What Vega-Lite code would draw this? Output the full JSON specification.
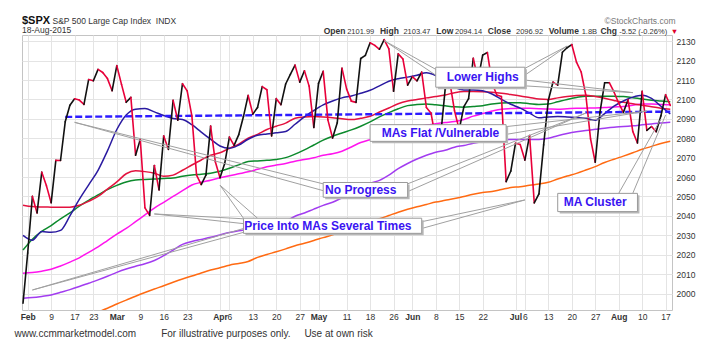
{
  "$schema": "https://vega.github.io/schema/vega-lite/v6.json",
  "width": 650,
  "height": 275,
  "autosize": {"type": "none"},
  "padding": {"left": 22, "top": 35, "right": 39, "bottom": 38},
  "config": {"font": "Liberation Sans", "view": {"stroke": "#c4c4c4", "strokeWidth": 1}},
  "title": {"text": "$SPX", "subtitle": "18-Aug-2015", "anchor": "start", "frame": "group", "fontSize": 11, "fontWeight": "bold", "color": "#111", "subtitleFontSize": 8.5, "subtitleColor": "#333", "offset": -18, "subtitlePadding": 0},
  "datasets": {
    "prices": [
      {"date":"2015-01-30","close":1994.99},{"date":"2015-02-02","close":2020.85},{"date":"2015-02-03","close":2050.03},{"date":"2015-02-04","close":2041.51},{"date":"2015-02-05","close":2062.52},{"date":"2015-02-06","close":2055.47},{"date":"2015-02-09","close":2046.74},{"date":"2015-02-10","close":2068.59},{"date":"2015-02-11","close":2068.53},{"date":"2015-02-12","close":2088.48},{"date":"2015-02-13","close":2096.99},{"date":"2015-02-17","close":2100.34},{"date":"2015-02-18","close":2099.68},{"date":"2015-02-19","close":2097.45},{"date":"2015-02-20","close":2110.30},{"date":"2015-02-23","close":2109.66},{"date":"2015-02-24","close":2115.48},{"date":"2015-02-25","close":2113.86},{"date":"2015-02-26","close":2110.74},{"date":"2015-02-27","close":2104.50},
      {"date":"2015-03-02","close":2117.39},{"date":"2015-03-03","close":2107.78},{"date":"2015-03-04","close":2098.53},{"date":"2015-03-05","close":2101.04},{"date":"2015-03-06","close":2071.26},{"date":"2015-03-09","close":2079.43},{"date":"2015-03-10","close":2044.16},{"date":"2015-03-11","close":2040.24},{"date":"2015-03-12","close":2065.95},{"date":"2015-03-13","close":2053.40},{"date":"2015-03-16","close":2081.19},{"date":"2015-03-17","close":2074.28},{"date":"2015-03-18","close":2099.50},{"date":"2015-03-19","close":2089.27},{"date":"2015-03-20","close":2108.10},{"date":"2015-03-23","close":2104.42},{"date":"2015-03-24","close":2091.50},{"date":"2015-03-25","close":2061.05},{"date":"2015-03-26","close":2056.15},{"date":"2015-03-27","close":2061.02},{"date":"2015-03-30","close":2086.24},{"date":"2015-03-31","close":2067.89},
      {"date":"2015-04-01","close":2059.69},{"date":"2015-04-02","close":2066.96},{"date":"2015-04-06","close":2080.62},{"date":"2015-04-07","close":2076.33},{"date":"2015-04-08","close":2081.90},{"date":"2015-04-09","close":2091.18},{"date":"2015-04-10","close":2102.06},{"date":"2015-04-13","close":2092.43},{"date":"2015-04-14","close":2095.84},{"date":"2015-04-15","close":2106.63},{"date":"2015-04-16","close":2104.99},{"date":"2015-04-17","close":2081.18},{"date":"2015-04-20","close":2100.40},{"date":"2015-04-21","close":2097.29},{"date":"2015-04-22","close":2107.96},{"date":"2015-04-23","close":2112.93},{"date":"2015-04-24","close":2117.69},{"date":"2015-04-27","close":2108.92},{"date":"2015-04-28","close":2114.76},{"date":"2015-04-29","close":2106.85},{"date":"2015-04-30","close":2085.51},
      {"date":"2015-05-01","close":2108.29},{"date":"2015-05-04","close":2114.49},{"date":"2015-05-05","close":2089.46},{"date":"2015-05-06","close":2080.15},{"date":"2015-05-07","close":2088.00},{"date":"2015-05-08","close":2116.10},{"date":"2015-05-11","close":2105.33},{"date":"2015-05-12","close":2099.12},{"date":"2015-05-13","close":2098.48},{"date":"2015-05-14","close":2121.10},{"date":"2015-05-15","close":2122.73},{"date":"2015-05-18","close":2129.20},{"date":"2015-05-19","close":2127.83},{"date":"2015-05-20","close":2125.85},{"date":"2015-05-21","close":2130.82},{"date":"2015-05-22","close":2126.06},{"date":"2015-05-26","close":2104.20},{"date":"2015-05-27","close":2123.48},{"date":"2015-05-28","close":2120.79},{"date":"2015-05-29","close":2107.39},
      {"date":"2015-06-01","close":2111.73},{"date":"2015-06-02","close":2109.60},{"date":"2015-06-03","close":2114.07},{"date":"2015-06-04","close":2095.84},{"date":"2015-06-05","close":2092.83},{"date":"2015-06-08","close":2079.28},{"date":"2015-06-09","close":2080.15},{"date":"2015-06-10","close":2105.20},{"date":"2015-06-11","close":2108.86},{"date":"2015-06-12","close":2094.11},{"date":"2015-06-15","close":2084.43},{"date":"2015-06-16","close":2096.29},{"date":"2015-06-17","close":2100.44},{"date":"2015-06-18","close":2121.24},{"date":"2015-06-19","close":2109.99},{"date":"2015-06-22","close":2122.85},{"date":"2015-06-23","close":2124.20},{"date":"2015-06-24","close":2108.58},{"date":"2015-06-25","close":2102.31},{"date":"2015-06-26","close":2101.49},{"date":"2015-06-29","close":2057.64},{"date":"2015-06-30","close":2063.11},
      {"date":"2015-07-01","close":2077.42},{"date":"2015-07-02","close":2076.78},{"date":"2015-07-06","close":2068.76},{"date":"2015-07-07","close":2081.34},{"date":"2015-07-08","close":2046.68},{"date":"2015-07-09","close":2051.31},{"date":"2015-07-10","close":2076.62},{"date":"2015-07-13","close":2099.60},{"date":"2015-07-14","close":2108.95},{"date":"2015-07-15","close":2107.40},{"date":"2015-07-16","close":2124.29},{"date":"2015-07-17","close":2126.64},{"date":"2015-07-20","close":2128.28},{"date":"2015-07-21","close":2119.21},{"date":"2015-07-22","close":2114.15},{"date":"2015-07-23","close":2102.15},{"date":"2015-07-24","close":2079.65},{"date":"2015-07-27","close":2067.64},{"date":"2015-07-28","close":2093.25},{"date":"2015-07-29","close":2108.57},{"date":"2015-07-30","close":2108.63},{"date":"2015-07-31","close":2103.84},
      {"date":"2015-08-03","close":2098.04},{"date":"2015-08-04","close":2093.32},{"date":"2015-08-05","close":2099.84},{"date":"2015-08-06","close":2083.56},{"date":"2015-08-07","close":2077.57},{"date":"2015-08-10","close":2104.18},{"date":"2015-08-11","close":2084.07},{"date":"2015-08-12","close":2086.05},{"date":"2015-08-13","close":2083.39},{"date":"2015-08-14","close":2091.54},{"date":"2015-08-17","close":2102.44},{"date":"2015-08-18","close":2096.92}
    ],
    "mas": [
      {"date":"2015-01-30","ma1":2030,"ma2":2045.5,"ma3":2022.4,"ma4":2010.4,"ma5":1997.5,"ma6":null},
      {"date":"2015-02-03","ma1":2027.5,"ma2":2044.8,"ma3":2028,"ma4":2010.8,"ma5":1997.9,"ma6":null},
      {"date":"2015-02-05","ma1":2032,"ma2":2044.6,"ma3":2032,"ma4":2011.5,"ma5":1998.5,"ma6":null},
      {"date":"2015-02-09","ma1":2031.5,"ma2":2044.5,"ma3":2035,"ma4":2012.5,"ma5":1999.2,"ma6":null},
      {"date":"2015-02-11","ma1":2032.5,"ma2":2044.4,"ma3":2038.5,"ma4":2014.2,"ma5":2000.6,"ma6":null},
      {"date":"2015-02-13","ma1":2040,"ma2":2044.5,"ma3":2041.5,"ma4":2016.2,"ma5":2002,"ma6":null},
      {"date":"2015-02-18","ma1":2048.5,"ma2":2045.5,"ma3":2045,"ma4":2018.4,"ma5":2003.6,"ma6":null},
      {"date":"2015-02-20","ma1":2056,"ma2":2047.5,"ma3":2048,"ma4":2021.2,"ma5":2005.3,"ma6":null},
      {"date":"2015-02-24","ma1":2063.5,"ma2":2050,"ma3":2050.8,"ma4":2024,"ma5":2007,"ma6":1990.5},
      {"date":"2015-02-26","ma1":2073.5,"ma2":2053.8,"ma3":2053.5,"ma4":2027.3,"ma5":2008.9,"ma6":1992.4},
      {"date":"2015-03-02","ma1":2084.5,"ma2":2057.5,"ma3":2055.7,"ma4":2030.6,"ma5":2010.9,"ma6":1994.6},
      {"date":"2015-03-04","ma1":2092,"ma2":2061.7,"ma3":2057.5,"ma4":2033.5,"ma5":2012.6,"ma6":1996.6},
      {"date":"2015-03-06","ma1":2095,"ma2":2063.2,"ma3":2058.5,"ma4":2037,"ma5":2014,"ma6":1998.6},
      {"date":"2015-03-10","ma1":2095.3,"ma2":2062.8,"ma3":2058.8,"ma4":2040.5,"ma5":2015.3,"ma6":2000.5},
      {"date":"2015-03-12","ma1":2093.6,"ma2":2062,"ma3":2059,"ma4":2044,"ma5":2017,"ma6":2002.3},
      {"date":"2015-03-16","ma1":2091.7,"ma2":2060.4,"ma3":2059.3,"ma4":2047,"ma5":2019.5,"ma6":2004},
      {"date":"2015-03-18","ma1":2090.2,"ma2":2061,"ma3":2059.5,"ma4":2050,"ma5":2022.3,"ma6":2005.8},
      {"date":"2015-03-20","ma1":2089.7,"ma2":2063.5,"ma3":2060.4,"ma4":2053,"ma5":2025.3,"ma6":2007.5},
      {"date":"2015-03-24","ma1":2087,"ma2":2066.2,"ma3":2061.1,"ma4":2055.9,"ma5":2026.8,"ma6":2009},
      {"date":"2015-03-26","ma1":2083.2,"ma2":2068.8,"ma3":2061.5,"ma4":2057.3,"ma5":2027.9,"ma6":2010.6},
      {"date":"2015-03-30","ma1":2079.5,"ma2":2071.2,"ma3":2062,"ma4":2058.4,"ma5":2029,"ma6":2012.1},
      {"date":"2015-04-01","ma1":2076,"ma2":2072.5,"ma3":2063,"ma4":2059.6,"ma5":2030.2,"ma6":2013.3},
      {"date":"2015-04-06","ma1":2074.8,"ma2":2074.8,"ma3":2064.5,"ma4":2060.7,"ma5":2031.4,"ma6":2014.6},
      {"date":"2015-04-08","ma1":2076.5,"ma2":2077,"ma3":2066.3,"ma4":2061.7,"ma5":2032.3,"ma6":2015.5},
      {"date":"2015-04-10","ma1":2079.5,"ma2":2080,"ma3":2068,"ma4":2062.7,"ma5":2033,"ma6":2016.5},
      {"date":"2015-04-14","ma1":2081.5,"ma2":2082,"ma3":2068.3,"ma4":2064,"ma5":2033.8,"ma6":2018.6},
      {"date":"2015-04-16","ma1":2082.2,"ma2":2084.5,"ma3":2068.6,"ma4":2065.3,"ma5":2034.5,"ma6":2020.1},
      {"date":"2015-04-20","ma1":2082.8,"ma2":2086.2,"ma3":2069,"ma4":2066.2,"ma5":2035.8,"ma6":2021.5},
      {"date":"2015-04-22","ma1":2083.5,"ma2":2087.8,"ma3":2070,"ma4":2067,"ma5":2037.3,"ma6":2023},
      {"date":"2015-04-24","ma1":2087.2,"ma2":2090.3,"ma3":2071.8,"ma4":2068.2,"ma5":2039.8,"ma6":2024.6},
      {"date":"2015-04-28","ma1":2091,"ma2":2091,"ma3":2074,"ma4":2069,"ma5":2041.5,"ma6":2025.9},
      {"date":"2015-04-30","ma1":2094.3,"ma2":2091.2,"ma3":2076.5,"ma4":2070,"ma5":2043.5,"ma6":2027.3},
      {"date":"2015-05-04","ma1":2097.2,"ma2":2091,"ma3":2079,"ma4":2071.2,"ma5":2045.4,"ma6":2028.8},
      {"date":"2015-05-06","ma1":2099.2,"ma2":2090.6,"ma3":2081,"ma4":2072,"ma5":2047,"ma6":2030.2},
      {"date":"2015-05-08","ma1":2100.8,"ma2":2090,"ma3":2082.7,"ma4":2073.3,"ma5":2049.3,"ma6":2031.8},
      {"date":"2015-05-12","ma1":2101.8,"ma2":2089.6,"ma3":2084.3,"ma4":2075.5,"ma5":2051.8,"ma6":2033.6},
      {"date":"2015-05-14","ma1":2103.2,"ma2":2090.3,"ma3":2086.2,"ma4":2077.8,"ma5":2054.5,"ma6":2035.3},
      {"date":"2015-05-18","ma1":2104.7,"ma2":2091.3,"ma3":2088.4,"ma4":2079.3,"ma5":2056.8,"ma6":2036.9},
      {"date":"2015-05-20","ma1":2107,"ma2":2093.5,"ma3":2091,"ma4":2080.5,"ma5":2058.3,"ma6":2038.5},
      {"date":"2015-05-22","ma1":2109.4,"ma2":2095.6,"ma3":2093.2,"ma4":2082,"ma5":2061,"ma6":2040.2},
      {"date":"2015-05-27","ma1":2110.7,"ma2":2097.8,"ma3":2095.2,"ma4":2083.4,"ma5":2064.3,"ma6":2041.9},
      {"date":"2015-05-29","ma1":2111.5,"ma2":2099.2,"ma3":2096.8,"ma4":2084.7,"ma5":2067,"ma6":2043.4},
      {"date":"2015-06-02","ma1":2112.5,"ma2":2100,"ma3":2097.4,"ma4":2085.8,"ma5":2069.3,"ma6":2044.7},
      {"date":"2015-06-04","ma1":2113.7,"ma2":2100.8,"ma3":2097.7,"ma4":2086.8,"ma5":2071.2,"ma6":2045.9},
      {"date":"2015-06-08","ma1":2112.3,"ma2":2101.5,"ma3":2097.2,"ma4":2087.5,"ma5":2072.8,"ma6":2047.1},
      {"date":"2015-06-10","ma1":2109.5,"ma2":2102.3,"ma3":2096.7,"ma4":2088.1,"ma5":2073.8,"ma6":2048},
      {"date":"2015-06-12","ma1":2106.2,"ma2":2103.5,"ma3":2096.2,"ma4":2088.6,"ma5":2075.4,"ma6":2048.9},
      {"date":"2015-06-16","ma1":2104.9,"ma2":2104.1,"ma3":2096,"ma4":2089.7,"ma5":2076.3,"ma6":2050},
      {"date":"2015-06-18","ma1":2104.9,"ma2":2104.1,"ma3":2096.4,"ma4":2091.4,"ma5":2077.4,"ma6":2051.1},
      {"date":"2015-06-22","ma1":2104.5,"ma2":2104,"ma3":2096.8,"ma4":2092.7,"ma5":2078.3,"ma6":2052},
      {"date":"2015-06-24","ma1":2102.8,"ma2":2103.7,"ma3":2097.6,"ma4":2094,"ma5":2078.8,"ma6":2052.6},
      {"date":"2015-06-26","ma1":2100,"ma2":2103.2,"ma3":2098.1,"ma4":2095,"ma5":2079.2,"ma6":2053.6},
      {"date":"2015-06-30","ma1":2097.5,"ma2":2102.5,"ma3":2098.3,"ma4":2095.3,"ma5":2079.3,"ma6":2054.6},
      {"date":"2015-07-02","ma1":2095.5,"ma2":2101.8,"ma3":2098.3,"ma4":2095.5,"ma5":2079.3,"ma6":2055},
      {"date":"2015-07-07","ma1":2093,"ma2":2101,"ma3":2097.8,"ma4":2095.4,"ma5":2079.3,"ma6":2055.8},
      {"date":"2015-07-09","ma1":2090.5,"ma2":2100.2,"ma3":2097.4,"ma4":2095.2,"ma5":2079.4,"ma6":2056.4},
      {"date":"2015-07-13","ma1":2091,"ma2":2100,"ma3":2097.6,"ma4":2095.1,"ma5":2080,"ma6":2057.3},
      {"date":"2015-07-15","ma1":2091.2,"ma2":2100.8,"ma3":2098.8,"ma4":2095,"ma5":2081.3,"ma6":2059},
      {"date":"2015-07-17","ma1":2091,"ma2":2101.5,"ma3":2100,"ma4":2095.2,"ma5":2082.4,"ma6":2060.5},
      {"date":"2015-07-21","ma1":2090.7,"ma2":2102,"ma3":2101,"ma4":2095.4,"ma5":2083.3,"ma6":2061.9},
      {"date":"2015-07-23","ma1":2090.3,"ma2":2102.2,"ma3":2101.7,"ma4":2095.5,"ma5":2084,"ma6":2063.6},
      {"date":"2015-07-27","ma1":2089.3,"ma2":2101.5,"ma3":2101.7,"ma4":2095.6,"ma5":2084.6,"ma6":2065.4},
      {"date":"2015-07-29","ma1":2092.7,"ma2":2100.6,"ma3":2101.7,"ma4":2095.8,"ma5":2085.2,"ma6":2067.5},
      {"date":"2015-07-31","ma1":2096.5,"ma2":2099.5,"ma3":2101.6,"ma4":2096.1,"ma5":2085.7,"ma6":2069.2},
      {"date":"2015-08-04","ma1":2099.2,"ma2":2098.5,"ma3":2101.5,"ma4":2096.3,"ma5":2086,"ma6":2070.8},
      {"date":"2015-08-06","ma1":2101.2,"ma2":2097.8,"ma3":2100.9,"ma4":2097,"ma5":2086.4,"ma6":2072.5},
      {"date":"2015-08-10","ma1":2102.2,"ma2":2097,"ma3":2100.2,"ma4":2097.6,"ma5":2086.9,"ma6":2074.3},
      {"date":"2015-08-12","ma1":2100.5,"ma2":2096.2,"ma3":2099.6,"ma4":2097.6,"ma5":2087.4,"ma6":2075.8},
      {"date":"2015-08-14","ma1":2096.5,"ma2":2095.5,"ma3":2099.2,"ma4":2097.4,"ma5":2087.9,"ma6":2077.3},
      {"date":"2015-08-18","ma1":2092.5,"ma2":2095,"ma3":2098.8,"ma4":2097.2,"ma5":2088.3,"ma6":2078.4}
    ],
    "trend": [
      {"date":"2015-02-12","level":2091},
      {"date":"2015-08-18","level":2093.7}
    ],
    "callouts": [
      {"from":"2015-05-21","fromPrice":2130.3,"to":"2015-06-08","toPrice":2115.5},
      {"from":"2015-05-21","fromPrice":2130.3,"to":"2015-06-08","toPrice":2112.5},
      {"from":"2015-07-17","fromPrice":2127.5,"to":"2015-07-06","toPrice":2116},
      {"from":"2015-07-17","fromPrice":2127.5,"to":"2015-07-06","toPrice":2112.5},
      {"from":"2015-07-06","fromPrice":2110,"to":"2015-08-06","toPrice":2103.5},
      {"from":"2015-07-06","fromPrice":2107,"to":"2015-08-06","toPrice":2103.5},
      {"from":"2015-06-29","fromPrice":2086,"to":"2015-08-11","toPrice":2094},
      {"from":"2015-06-29","fromPrice":2082,"to":"2015-08-11","toPrice":2094},
      {"from":"2015-02-17","fromPrice":2088.2,"to":"2015-05-04","toPrice":2056.5},
      {"from":"2015-02-17","fromPrice":2088.2,"to":"2015-05-04","toPrice":2053},
      {"from":"2015-05-29","fromPrice":2056.5,"to":"2015-07-23","toPrice":2093},
      {"from":"2015-05-29","fromPrice":2052.5,"to":"2015-07-23","toPrice":2093},
      {"from":"2015-03-12","fromPrice":2041,"to":"2015-04-09","toPrice":2038.5},
      {"from":"2015-03-12","fromPrice":2041,"to":"2015-04-09","toPrice":2036},
      {"from":"2015-04-01","fromPrice":2055.8,"to":"2015-04-09","toPrice":2038.8},
      {"from":"2015-04-01","fromPrice":2055.8,"to":"2015-04-14","toPrice":2038.8},
      {"from":"2015-02-03","fromPrice":2001.8,"to":"2015-04-09","toPrice":2033.5},
      {"from":"2015-02-03","fromPrice":2001.8,"to":"2015-04-09","toPrice":2031.5},
      {"from":"2015-06-03","fromPrice":2037,"to":"2015-07-06","toPrice":2048.2},
      {"from":"2015-06-03","fromPrice":2033.5,"to":"2015-07-06","toPrice":2048.2},
      {"from":"2015-08-03","fromPrice":2051.6,"to":"2015-08-14","toPrice":2090},
      {"from":"2015-08-06","fromPrice":2051.6,"to":"2015-08-17","toPrice":2092}
    ],
    "notes": [
      {"label":"Lower Highs","at":"2015-06-22","price":2111.4,"start":"2015-06-08","end":"2015-07-06","low":2106.3,"high":2116.6},
      {"label":"MAs Flat /Vulnerable","at":"2015-06-09","price":2082.9,"start":"2015-05-18","end":"2015-06-29","low":2078.4,"high":2087},
      {"label":"No Progress","at":"2015-05-14","price":2053.4,"start":"2015-05-04","end":"2015-05-29","low":2049.6,"high":2057.2},
      {"label":"Price Into MAs Several Times","at":"2015-05-05","price":2035,"start":"2015-04-09","end":"2015-06-03","low":2031,"high":2038.8},
      {"label":"MA Cluster","at":"2015-07-27","price":2046.9,"start":"2015-07-15","end":"2015-08-07","low":2042.2,"high":2051.6}
    ]
  },
  "resolve": {"axis": {"x": "independent", "y": "independent"}},
  "layer": [
    {
      "data": {"name": "mas"},
      "transform": [
        {"fold": ["ma6", "ma5", "ma4", "ma3", "ma2", "ma1"], "as": ["series", "value"]},
        {"filter": "isValid(datum.value)"}
      ],
      "mark": {"type": "line", "strokeWidth": 1.5, "interpolate": "monotone", "clip": true},
      "encoding": {
        "x": {"field": "date", "type": "ordinal", "scale": {"type": "point", "padding": 0.29, "align": 0.37},
          "axis": {"orient": "top", "domain": false, "ticks": false, "grid": false, "title": null, "labelAngle": 0, "labelAlign": "left", "labelOverlap": false, "labelBound": false, "labelPadding": 0, "labelColor": {"condition": {"test": "datum.value == '2015-08-18'", "value": "#e0002a"}, "value": "#333"},
            "values": ["2015-05-04","2015-05-11","2015-05-20","2015-05-28","2015-06-08","2015-06-12","2015-06-23","2015-07-01","2015-07-13","2015-07-22","2015-07-28","2015-08-03","2015-08-18"],
            "labelExpr": "['Open','2101.99','High','2103.47','Low','2094.14','Close','2096.92','Volume','1.8B','Chg','-5.52 (-0.26%)','▼'][indexof(['2015-05-04','2015-05-11','2015-05-20','2015-05-28','2015-06-08','2015-06-12','2015-06-23','2015-07-01','2015-07-13','2015-07-22','2015-07-28','2015-08-03','2015-08-18'], datum.value)]",
            "labelFontWeight": {"condition": {"test": "indexof(['2015-05-04','2015-05-20','2015-06-08','2015-06-23','2015-07-13','2015-07-28'], datum.value) >= 0", "value": "bold"}, "value": "normal"},
            "labelFontSize": {"condition": {"test": "indexof(['2015-05-04','2015-05-20','2015-06-08','2015-06-23','2015-07-13','2015-07-28'], datum.value) >= 0", "value": 8.5}, "value": 7.5}}},
        "y": {"field": "value", "type": "quantitative", "scale": {"domain": [1991.5, 2133.2], "nice": false, "zero": false},
          "axis": {"orient": "left", "labels": false, "ticks": false, "domain": false, "grid": false, "title": "S&P 500 Large Cap Index\u00a0\u00a0INDX", "titleAngle": 0, "titleAlign": "left", "titleBaseline": "alphabetic", "titleX": 30, "titleY": -12, "titleFontSize": 8.5, "titleFontWeight": "normal", "titleColor": "#333"}},
        "color": {"field": "series", "type": "nominal", "legend": null,
          "scale": {"domain": ["ma1", "ma2", "ma3", "ma4", "ma5", "ma6"], "range": ["#2a1aa0", "#e3123f", "#0c8a2c", "#ff14ee", "#a23cf0", "#ff6a12"]}},
        "order": {"field": "series", "sort": "descending"}
      }
    },
    {
      "data": {"name": "trend"},
      "mark": {"type": "line", "strokeWidth": 2.4, "strokeDash": [7, 3], "color": "#2d1bff"},
      "encoding": {
        "x": {"field": "date", "type": "ordinal", "axis": null},
        "y": {"field": "level", "type": "quantitative", "axis": null}
      }
    },
    {
      "data": {"name": "prices"},
      "transform": [
        {"window": [{"op": "lag", "field": "close", "as": "prev"}, {"op": "lag", "field": "date", "as": "prevDate"}], "sort": [{"field": "date"}]},
        {"filter": "datum.prev != null"}
      ],
      "mark": {"type": "rule", "strokeWidth": 1.6, "strokeCap": "round"},
      "encoding": {
        "x": {"field": "prevDate", "type": "ordinal",
          "axis": {"orient": "bottom", "title": "www.ccmmarketmodel.com\u00a0\u00a0\u00a0\u00a0\u00a0\u00a0\u00a0\u00a0\u00a0For illustrative purposes only.\u00a0\u00a0\u00a0\u00a0\u00a0Use at own risk", "titleFontSize": 10, "titleFontWeight": "normal", "titleColor": "#333", "titleAnchor": "start", "titleAlign": "left", "titleBaseline": "alphabetic", "titleX": -8, "titleY": 26,
            "values": ["2015-02-02","2015-02-09","2015-02-17","2015-02-23","2015-03-02","2015-03-09","2015-03-16","2015-03-23","2015-04-01","2015-04-06","2015-04-13","2015-04-20","2015-04-27","2015-05-01","2015-05-11","2015-05-18","2015-05-26","2015-06-01","2015-06-08","2015-06-15","2015-06-22","2015-07-01","2015-07-06","2015-07-13","2015-07-20","2015-07-27","2015-08-03","2015-08-10","2015-08-17"],
            "labelExpr": "indexof(['2015-02-02','2015-03-02','2015-04-01','2015-05-01','2015-06-01','2015-07-01','2015-08-03'], datum.value) >= 0 ? ['Jan','Feb','Mar','Apr','May','Jun','Jul','Aug'][toNumber(substring(datum.value,5,7))-1] : '' + toNumber(substring(datum.value,8,10))",
            "labelFontWeight": {"condition": {"test": "indexof(['2015-02-02','2015-03-02','2015-04-01','2015-05-01','2015-06-01','2015-07-01','2015-08-03'], datum.value) >= 0", "value": "bold"}, "value": "normal"},
            "labelAngle": 0, "labelFontSize": 8.5, "labelColor": "#333", "labelOverlap": false, "labelPadding": 2, "ticks": false, "domain": false, "grid": true, "gridColor": "#e4e4e4"}},
        "x2": {"field": "date"},
        "y": {"field": "prev", "type": "quantitative",
          "axis": {"orient": "right", "values": [2000,2010,2020,2030,2040,2050,2060,2070,2080,2090,2100,2110,2120,2130], "format": "d", "labelFontSize": 8.5, "labelColor": "#333", "labelPadding": 4, "ticks": false, "domain": false, "grid": true, "gridColor": "#e4e4e4",
            "title": "©StockCharts.com", "titleAngle": 0, "titleAlign": "right", "titleBaseline": "middle", "titleX": 3, "titleY": -15, "titleFontSize": 8.5, "titleFontWeight": "normal", "titleColor": "#777"}},
        "y2": {"field": "close"},
        "color": {"condition": {"test": "datum.close >= datum.prev", "value": "#111111"}, "value": "#e8003a"}
      }
    },
    {
      "data": {"name": "callouts"},
      "mark": {"type": "rule", "strokeWidth": 1, "color": "#a0a0a0"},
      "encoding": {
        "x": {"field": "from", "type": "ordinal", "axis": null},
        "x2": {"field": "to"},
        "y": {"field": "fromPrice", "type": "quantitative", "axis": null},
        "y2": {"field": "toPrice"}
      }
    },
    {
      "data": {"name": "notes"},
      "mark": {"type": "rect", "fill": "#b8b8b8", "xOffset": 2, "x2Offset": 2, "yOffset": 2, "y2Offset": 2},
      "encoding": {
        "x": {"field": "start", "type": "ordinal", "axis": null},
        "x2": {"field": "end"},
        "y": {"field": "low", "type": "quantitative", "axis": null},
        "y2": {"field": "high"}
      }
    },
    {
      "data": {"name": "notes"},
      "mark": {"type": "rect", "fill": "#ffffff", "stroke": "#9a9a9a", "strokeWidth": 1},
      "encoding": {
        "x": {"field": "start", "type": "ordinal", "axis": null},
        "x2": {"field": "end"},
        "y": {"field": "low", "type": "quantitative", "axis": null},
        "y2": {"field": "high"}
      }
    },
    {
      "data": {"name": "notes"},
      "mark": {"type": "text", "fontSize": 12, "fontWeight": "bold", "color": "#3a14f2", "align": "center", "baseline": "middle"},
      "encoding": {
        "x": {"field": "at", "type": "ordinal", "axis": null},
        "y": {"field": "price", "type": "quantitative", "axis": null},
        "text": {"field": "label"}
      }
    }
  ]
}
